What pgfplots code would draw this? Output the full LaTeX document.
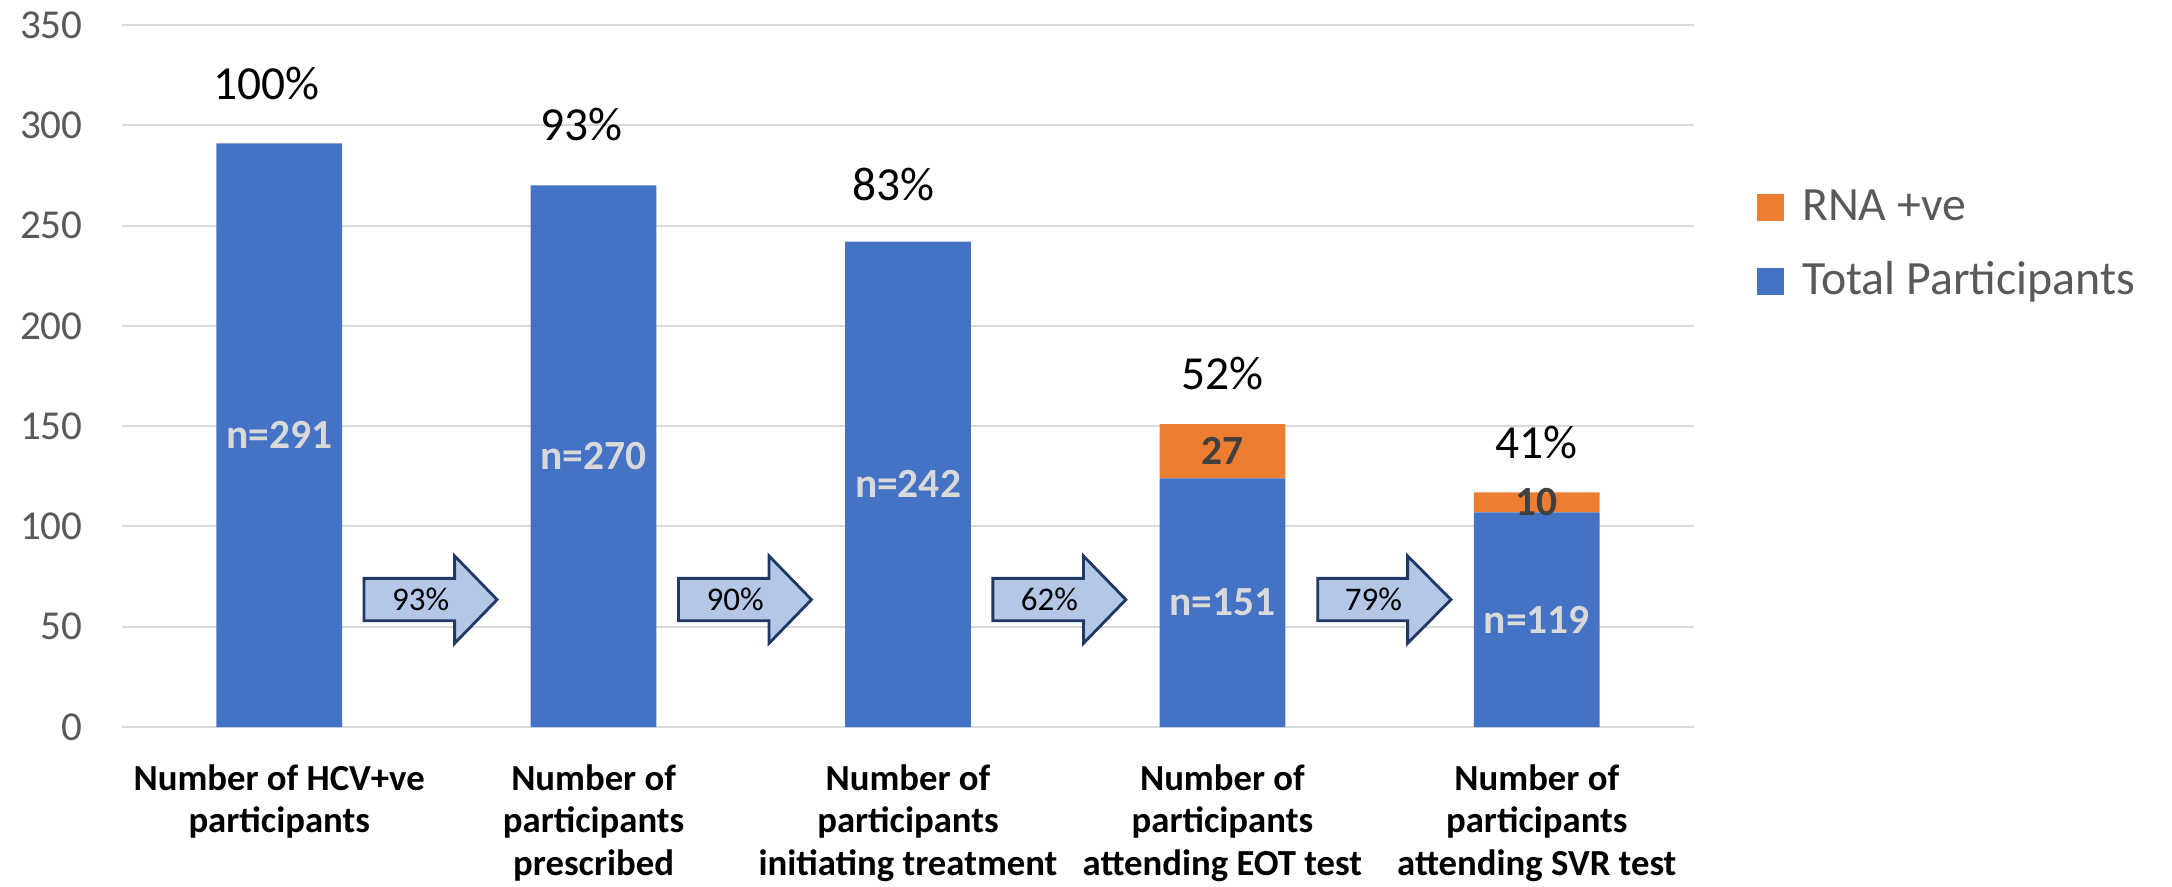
\documentclass[border=0pt]{standalone}
\usepackage{fontspec}
\setmainfont{Carlito}
\usepackage{pgfplots}
\pgfplotsset{compat=1.18}
\definecolor{cblue}{HTML}{4472C4}
\definecolor{corange}{HTML}{ED7D31}
\definecolor{gridc}{HTML}{D9D9D9}
\definecolor{tickc}{HTML}{595959}
\definecolor{arrfill}{HTML}{B4C7E7}
\definecolor{arrdraw}{HTML}{203864}
\definecolor{nlab}{HTML}{D9D9D9}
\definecolor{olab}{HTML}{404040}
\begin{document}
\begin{tikzpicture}
\useasboundingbox (-1.22,-1.59) rectangle (20.50,7.27);
\begin{axis}[
  at={(0,0)}, anchor=south west,
  scale only axis, width=15.72cm, height=7.02cm,
  xmin=-0.5, xmax=4.5, ymin=0, ymax=350,
  ybar stacked, bar width=0.4,
  ytick={0,50,...,350},
  xtick={0,1,2,3,4},
  xticklabels={{Number of HCV+ve\\participants},{Number of\\participants\\prescribed},{Number of\\participants\\initiating treatment},{Number of\\participants\\attending EOT test},{Number of\\participants\\attending SVR test}},
  ymajorgrids, grid style={gridc, line width=0.6pt},
  axis line style={draw=none}, tick style={draw=none},
  /pgf/number format/assume math mode=true,
  yticklabel style={font=\fontsize{11.7}{13}\selectfont, text=tickc, xshift=-0.27cm},
  xticklabel style={font=\fontsize{10.45}{12.1}\selectfont\bfseries, align=center, yshift=-0.25cm},
  legend style={at={(1.033,0.783)}, anchor=north west, draw=none, fill=none,
    font=\fontsize{13.6}{15}\selectfont, text=tickc, row sep=8.6pt, column sep=0.18cm,
    nodes={inner sep=0pt, text height=10pt, text depth=2.5pt}},
  legend cell align=left,
  reverse legend,
  legend image code/.code={\draw[#1,draw=none] (0cm,-0.135cm) rectangle (0.27cm,0.135cm);},
]
\addplot[fill=cblue, draw=none] coordinates {(0,291) (1,270) (2,242) (3,124) (4,107)};
\addlegendentry{Total Participants}
\addplot[fill=corange, draw=none] coordinates {(0,0) (1,0) (2,0) (3,27) (4,10)};
\addlegendentry{RNA +ve}

% block arrows
\foreach \i/\a/\b/\c in {0/0.27/0.558/0.693,1/1.27/1.558/1.693,2/2.27/2.558/2.693,3/3.303/3.589/3.727}{
  \edef\temp{\noexpand\draw[arrdraw, fill=arrfill, line width=0.8pt, line join=miter]
    (axis cs:\a,53) -- (axis cs:\b,53) -- (axis cs:\b,41.7) -- (axis cs:\c,63.5)
    -- (axis cs:\b,85.3) -- (axis cs:\b,74.1) -- (axis cs:\a,74.1) -- cycle;}
  \temp
}
% anchor points for the labels
\coordinate (n0) at (axis cs:0,145.5);
\coordinate (n1) at (axis cs:1,135);
\coordinate (n2) at (axis cs:2,121);
\coordinate (n3) at (axis cs:3,62);
\coordinate (n4) at (axis cs:4,53.5);
\coordinate (o3) at (axis cs:3,137.5);
\coordinate (o4) at (axis cs:4,112);
\coordinate (p0) at (axis cs:-0.04,312.7);
\coordinate (p1) at (axis cs:0.96,292.6);
\coordinate (p2) at (axis cs:1.955,262.3);
\coordinate (p3) at (axis cs:3,168.4);
\coordinate (p4) at (axis cs:4,133.8);
\coordinate (a0) at (axis cs:0.45,63.5);
\coordinate (a1) at (axis cs:1.45,63.5);
\coordinate (a2) at (axis cs:2.45,63.5);
\coordinate (a3) at (axis cs:3.48,63.5);
\end{axis}
% values inside bars
\tikzset{nl/.style={font=\fontsize{11.8}{13}\selectfont\bfseries, text=nlab},
         ol/.style={font=\fontsize{11.8}{13}\selectfont\bfseries, text=olab},
         pl/.style={font=\fontsize{13.5}{15}\selectfont, anchor=base},
         al/.style={font=\fontsize{9.4}{11}\selectfont}}
\node[nl] at (n0) {n=291};
\node[nl] at (n1) {n=270};
\node[nl] at (n2) {n=242};
\node[nl] at (n3) {n=151};
\node[nl] at (n4) {n=119};
\node[ol] at (o3) {27};
\node[ol] at (o4) {10};
\node[pl] at (p0) {100\%};
\node[pl] at (p1) {93\%};
\node[pl] at (p2) {83\%};
\node[pl] at (p3) {52\%};
\node[pl] at (p4) {41\%};
\node[al] at (a0) {93\%};
\node[al] at (a1) {90\%};
\node[al] at (a2) {62\%};
\node[al] at (a3) {79\%};
\end{tikzpicture}
\end{document}
